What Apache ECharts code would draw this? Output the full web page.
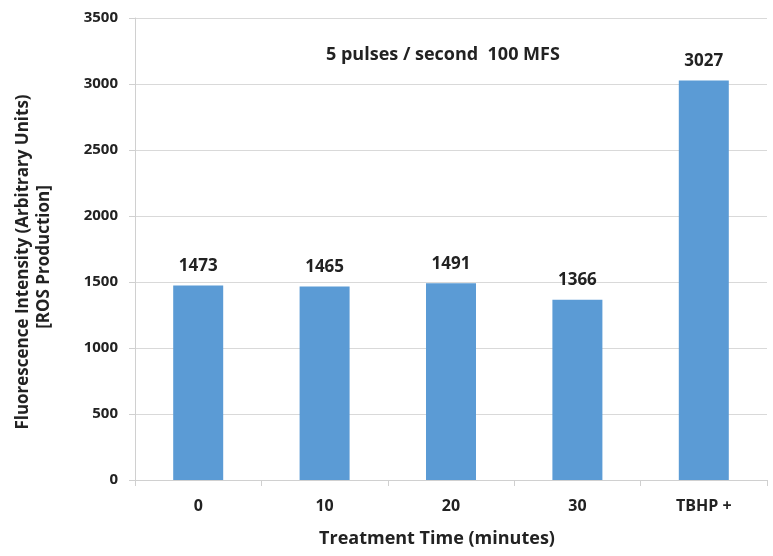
<!DOCTYPE html>
<html><head><meta charset="utf-8">
<script src="https://cdn.jsdelivr.net/npm/echarts@6/dist/echarts.min.js"></script>
<style>html,body{margin:0;padding:0;background:#fff}#c{width:773px;height:556px}</style>
</head><body><div id="c"></div>
<script>
const categories = ['0', '10', '20', '30', 'TBHP +'];
const values = [1473, 1465, 1491, 1366, 3027];
const yTicks = [0, 500, 1000, 1500, 2000, 2500, 3000, 3500];
const chartTitle = '5 pulses / second  100 MFS';
const xName = 'Treatment Time (minutes)';
const yName1 = 'Fluorescence Intensity (Arbitrary Units)';
const yName2 = '[ROS Production]';

const font = 'Open Sans, Lato, sans-serif';
const txt = (s, size) => ({ text: s, fontFamily: font, fontSize: size, fontWeight: 'bold', fill: '#222', textAlign: 'center', textVerticalAlign: 'middle' });
const chart = echarts.init(document.getElementById('c'));
chart.setOption({
  animation: false,
  backgroundColor: '#fff',
  title: {
    text: chartTitle, left: 321, top: 41,
    textStyle: { fontFamily: font, fontSize: 18, fontWeight: 'bold', color: '#222' }
  },
  graphic: [
    { type: 'text', x: 437, y: 539, style: txt(xName, 18) },
    { type: 'text', x: 23, y: 262, rotation: Math.PI / 2, style: txt(yName1, 17) },
    { type: 'text', x: 44, y: 257, rotation: Math.PI / 2, style: txt(yName2, 17) }
  ],
  grid: { left: 135, right: 6, top: 18, bottom: 76 },
  xAxis: {
    type: 'category', data: categories,
    axisLine: { lineStyle: { color: '#d0d0d0', width: 1 } },
    axisTick: { show: true, length: 6, lineStyle: { color: '#d0d0d0' } },
    axisLabel: { margin: 18, fontFamily: font, fontSize: 16, fontWeight: 'bold', color: '#222' }
  },
  yAxis: {
    type: 'value', min: yTicks[0], max: yTicks[yTicks.length - 1], interval: 500,
    axisLine: { show: true, lineStyle: { color: '#d0d0d0' } },
    axisTick: { show: true, length: 6, lineStyle: { color: '#d0d0d0' } },
    splitLine: { lineStyle: { color: '#d9d9d9', width: 1 } },
    axisLabel: { margin: 17, fontFamily: font, fontSize: 15, fontWeight: 'bold', color: '#222', formatter: v => String(v) }
  },
  series: [{
    type: 'bar', data: values, barWidth: 50,
    itemStyle: { color: '#5b9bd5' },
    label: { show: true, position: 'top', distance: 11, fontFamily: font, fontSize: 17, fontWeight: 'bold', color: '#222' }
  }]
});
</script></body></html>
